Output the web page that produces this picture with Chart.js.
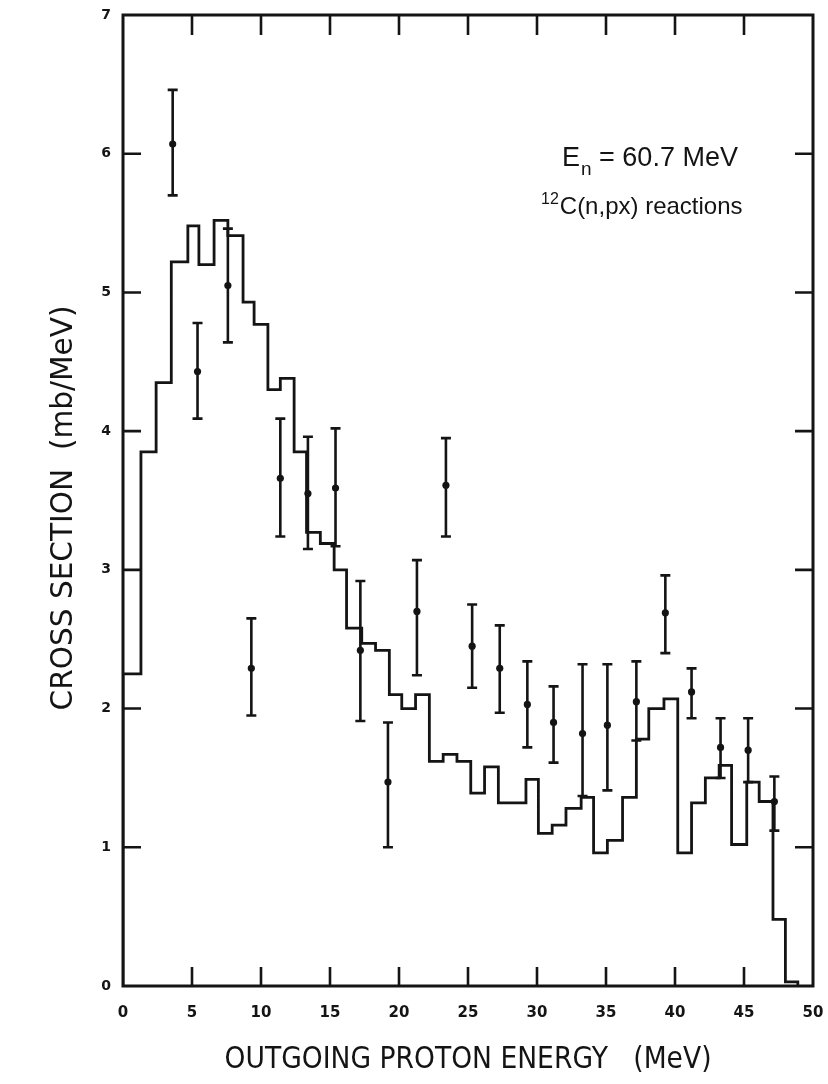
<!DOCTYPE html>
<html>
<head>
<meta charset="utf-8">
<script src="https://cdn.jsdelivr.net/npm/chart.js@4.4.1/dist/chart.umd.min.js"></script>
<style>
  html, body { margin: 0; padding: 0; background: #fff; }
  canvas { display: block; }
</style>
</head>
<body>
<canvas id="chart" width="828" height="1084"></canvas>
<script>
// histogram: bin edges (MeV) and cross section per bin (mb/MeV)
const binEdges = [0, 1.3, 2.4, 3.5, 4.7, 5.5, 6.6, 7.6, 8.7, 9.5,
  10.5, 11.4, 12.4, 13.3, 14.3, 15.3, 16.2, 17.3, 18.3, 19.3,
  20.2, 21.2, 22.2, 23.2, 24.2, 25.2, 26.2, 27.2, 28.2, 29.2,
  30.1, 31.1, 32.1, 33.2, 34.1, 35.1, 36.2, 37.2, 38.1, 39.2,
  40.2, 41.2, 42.2, 43.2, 44.1, 45.2, 46.1, 47.1, 48.0, 48.9];
const binValues = [2.25, 3.85, 4.35, 5.22, 5.48, 5.2, 5.52, 5.41, 4.93, 4.77,
  4.30, 4.38, 3.85, 3.27, 3.19, 3.0, 2.58, 2.47, 2.42, 2.10,
  2.0, 2.10, 1.62, 1.67, 1.62, 1.39, 1.58, 1.32, 1.32, 1.49,
  1.10, 1.16, 1.28, 1.36, 0.96, 1.05, 1.36, 1.78, 2.0, 2.07,
  0.96, 1.32, 1.50, 1.59, 1.02, 1.47, 1.33, 0.48, 0.03];

// measured points with error bars
const pointEnergy = [3.6, 5.4, 7.6, 9.3, 11.4, 13.4, 15.4, 17.2, 19.2, 21.3, 23.4, 25.3,
  27.3, 29.3, 31.2, 33.3, 35.1, 37.2, 39.3, 41.2, 43.3, 45.3, 47.2];
const pointValue = [6.07, 4.43, 5.05, 2.29, 3.66, 3.55, 3.59, 2.42, 1.47, 2.70, 3.61, 2.45,
  2.29, 2.03, 1.90, 1.82, 1.88, 2.05, 2.69, 2.12, 1.72, 1.70, 1.33];
const errHigh = [6.46, 4.78, 5.46, 2.65, 4.09, 3.96, 4.02, 2.92, 1.90, 3.07, 3.95, 2.75,
  2.60, 2.34, 2.16, 2.32, 2.32, 2.34, 2.96, 2.29, 1.93, 1.93, 1.51];
const errLow = [5.70, 4.09, 4.64, 1.95, 3.24, 3.15, 3.17, 1.91, 1.00, 2.24, 3.24, 2.15,
  1.97, 1.72, 1.61, 1.37, 1.41, 1.77, 2.40, 1.93, 1.50, 1.47, 1.12];

const xTicks = [0, 5, 10, 15, 20, 25, 30, 35, 40, 45, 50];
const yTicks = [0, 1, 2, 3, 4, 5, 6, 7];

const xTitle = 'OUTGOING PROTON ENERGY   (MeV)';
const yTitle = 'CROSS SECTION  (mb/MeV)';

const INK = '#141414';

// stepped outline (horizontal first, then vertical)
const histPoints = [{ x: binEdges[0], y: 0 }];
binValues.forEach((v, i) => histPoints.push({ x: binEdges[i], y: v }));
const lastEdge = binEdges[binEdges.length - 1];
histPoints.push({ x: lastEdge, y: binValues[binValues.length - 1] });
histPoints.push({ x: lastEdge, y: 0 });

const dots = pointEnergy.map((e, i) => ({ x: e, y: pointValue[i] }));

function fitText(ctx, text, cx, cy, width, font) {
  ctx.font = font;
  const w = ctx.measureText(text).width;
  ctx.save();
  ctx.translate(cx, cy);
  ctx.scale(width / w, 1);
  ctx.textAlign = 'center';
  ctx.textBaseline = 'alphabetic';
  ctx.fillText(text, 0, 0);
  ctx.restore();
}

const figurePlugin = {
  id: 'figure',
  afterDatasetsDraw(chart) {
    const { ctx, scales: { x, y } } = chart;
    ctx.save();
    ctx.strokeStyle = INK;
    ctx.lineWidth = 2.6;
    ctx.lineCap = 'butt';
    pointEnergy.forEach((e, i) => {
      const px = x.getPixelForValue(e);
      const top = y.getPixelForValue(errHigh[i]);
      const bot = y.getPixelForValue(errLow[i]);
      ctx.beginPath();
      ctx.moveTo(px, top); ctx.lineTo(px, bot);
      ctx.moveTo(px - 5, top); ctx.lineTo(px + 5, top);
      ctx.moveTo(px - 5, bot); ctx.lineTo(px + 5, bot);
      ctx.stroke();
    });
    ctx.restore();
  },
  afterDraw(chart) {
    const { ctx, chartArea: a, scales: { x, y } } = chart;
    ctx.save();
    ctx.strokeStyle = INK;
    ctx.fillStyle = INK;
    ctx.lineWidth = 3;
    ctx.strokeRect(a.left, a.top, a.right - a.left, a.bottom - a.top);

    // inward tick marks on all four sides
    ctx.lineWidth = 2.6;
    ctx.beginPath();
    xTicks.slice(1, -1).forEach(v => {
      const px = x.getPixelForValue(v);
      ctx.moveTo(px, a.bottom); ctx.lineTo(px, a.bottom - 19);
      ctx.moveTo(px, a.top); ctx.lineTo(px, a.top + 20);
    });
    yTicks.slice(1, -1).forEach(v => {
      const py = y.getPixelForValue(v);
      ctx.moveTo(a.left, py); ctx.lineTo(a.left + 18, py);
      ctx.moveTo(a.right, py); ctx.lineTo(a.right - 18, py);
    });
    ctx.stroke();

    // axis titles
    fitText(ctx, xTitle, 468, 1068, 487, '31px "DejaVu Sans"');
    ctx.save();
    ctx.translate(72, 508);
    ctx.rotate(-Math.PI / 2);
    fitText(ctx, yTitle, 0, 0, 405, '31px "DejaVu Sans"');
    ctx.restore();

    // annotation
    ctx.textAlign = 'left';
    ctx.textBaseline = 'alphabetic';
    let cx = 562;
    ctx.font = '27px "Liberation Sans"';
    ctx.fillText('E', cx, 166);
    cx += ctx.measureText('E').width;
    ctx.font = '19px "Liberation Sans"';
    ctx.fillText('n', cx + 1, 175);
    cx += ctx.measureText('n').width + 1;
    ctx.font = '27px "Liberation Sans"';
    ctx.fillText(' = 60.7 MeV', cx, 166);

    cx = 541;
    ctx.font = '16px "Liberation Sans"';
    ctx.fillText('12', cx, 204);
    cx += ctx.measureText('12').width + 1;
    ctx.font = '24px "Liberation Sans"';
    ctx.fillText('C(n,px) reactions', cx, 214);
    ctx.restore();
  }
};

new Chart(document.getElementById('chart'), {
  type: 'scatter',
  data: {
    datasets: [
      {
        type: 'line',
        data: histPoints,
        stepped: 'before',
        borderColor: INK,
        borderWidth: 2.8,
        borderJoinStyle: 'miter',
        pointRadius: 0,
        fill: false
      },
      {
        type: 'scatter',
        data: dots,
        pointRadius: 3.6,
        backgroundColor: INK,
        borderWidth: 0
      }
    ]
  },
  options: {
    responsive: false,
    animation: false,
    layout: { padding: { top: 15, right: 15, left: 0, bottom: 0 } },
    plugins: { legend: { display: false }, tooltip: { enabled: false } },
    scales: {
      x: {
        type: 'linear',
        min: 0,
        max: 50,
        afterBuildTicks(s) { s.ticks = xTicks.map(v => ({ value: v })); },
        afterFit(s) { s.height = 98; s.paddingLeft = 0; s.paddingRight = 0; },
        ticks: { padding: 18, color: INK, font: { family: 'DejaVu Sans', size: 15, weight: 'bold' } },
        grid: { display: false, drawTicks: false },
        border: { display: false }
      },
      y: {
        min: 0,
        max: 7,
        afterBuildTicks(s) { s.ticks = yTicks.map(v => ({ value: v })); },
        afterFit(s) { s.width = 123; s.paddingTop = 0; s.paddingBottom = 0; },
        ticks: { padding: 12, color: INK, font: { family: 'DejaVu Sans', size: 14, weight: 'bold' } },
        grid: { display: false, drawTicks: false },
        border: { display: false }
      }
    }
  },
  plugins: [figurePlugin]
});
</script>
</body>
</html>
